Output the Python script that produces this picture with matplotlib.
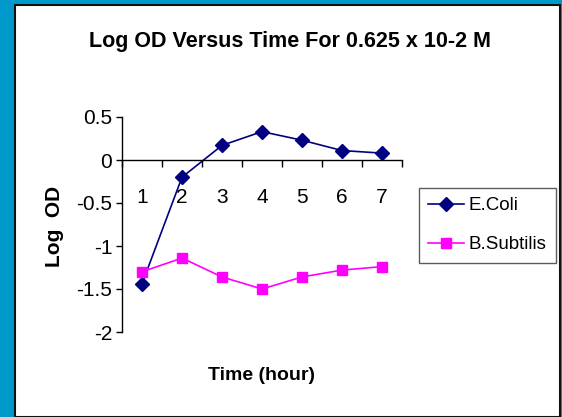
import matplotlib.pyplot as plt
from matplotlib.patches import Rectangle

plt.rcParams['font.family'] = ['Liberation Sans', 'DejaVu Sans']

# 数据
hours = [1, 2, 3, 4, 5, 6, 7]
ecoli = [-1.44, -0.20, 0.17, 0.33, 0.23, 0.11, 0.08]
bsubtilis = [-1.30, -1.14, -1.36, -1.50, -1.36, -1.28, -1.24]
yticks = [0.5, 0, -0.5, -1, -1.5, -2]
ytick_labels = ['0.5', '0', '-0.5', '-1', '-1.5', '-2']

W, H = 562, 417
fig = plt.figure(figsize=(W / 100, H / 100), dpi=100)
fig.patch.set_facecolor('#0099CC')

# 白色图表区
fig.patches.append(Rectangle((15 / W, 0), (560 - 15) / W, (H - 5) / H,
                             transform=fig.transFigure, facecolor='white',
                             edgecolor='#111111', linewidth=1.5, zorder=0))

ax = fig.add_axes([122 / W, 1 - 332 / H, (402 - 122) / W, (332 - 117) / H])
ax.set_facecolor('none')
ax.set_zorder(2)

ax.plot(hours, ecoli, color='#000080', marker='D', markersize=7,
        linewidth=1.2, label='E.Coli')
ax.plot(hours, bsubtilis, color='#FF00FF', marker='s', markersize=7,
        linewidth=1.2, label='B.Subtilis')

ax.set_xlim(0.5, 7.5)
ax.set_ylim(-2, 0.5)

for s in ['top', 'right']:
    ax.spines[s].set_visible(False)
ax.spines['bottom'].set_position(('data', 0))
ax.spines['left'].set_linewidth(1)
ax.spines['bottom'].set_linewidth(1)

ax.set_yticks(yticks)
ax.set_yticklabels(ytick_labels)
ax.set_xticks(hours)
ax.set_xticks([h + 0.5 for h in [0] + hours], minor=True)
ax.tick_params(axis='x', which='major', length=0, pad=20, labelsize=15)
ax.tick_params(axis='x', which='minor', length=5, direction='out', width=1)
ax.tick_params(axis='y', length=4, direction='out', width=1, labelsize=15, pad=3)

fig.text(290 / W, 1 - 42 / H, 'Log OD Versus Time For 0.625 x 10-2 M',
         ha='center', va='center', fontsize=15.5, fontweight='bold')
fig.text(55 / W, 1 - 226 / H, 'Log  OD', rotation=90, ha='center',
         va='center', fontsize=15, fontweight='bold')
fig.text(262 / W, 1 - 376 / H, 'Time (hour)', ha='center', va='center',
         fontsize=14, fontweight='bold')

leg = fig.legend(loc='upper left', bbox_to_anchor=(419 / W, 1 - 188 / H),
                 fontsize=13.5, frameon=True, fancybox=False, edgecolor='#333333',
                 handlelength=1.9, handletextpad=0.25, borderpad=0.5,
                 labelspacing=1.15, borderaxespad=0)
leg.get_frame().set_linewidth(1)

fig.savefig('out.png', dpi=100, facecolor=fig.get_facecolor())
